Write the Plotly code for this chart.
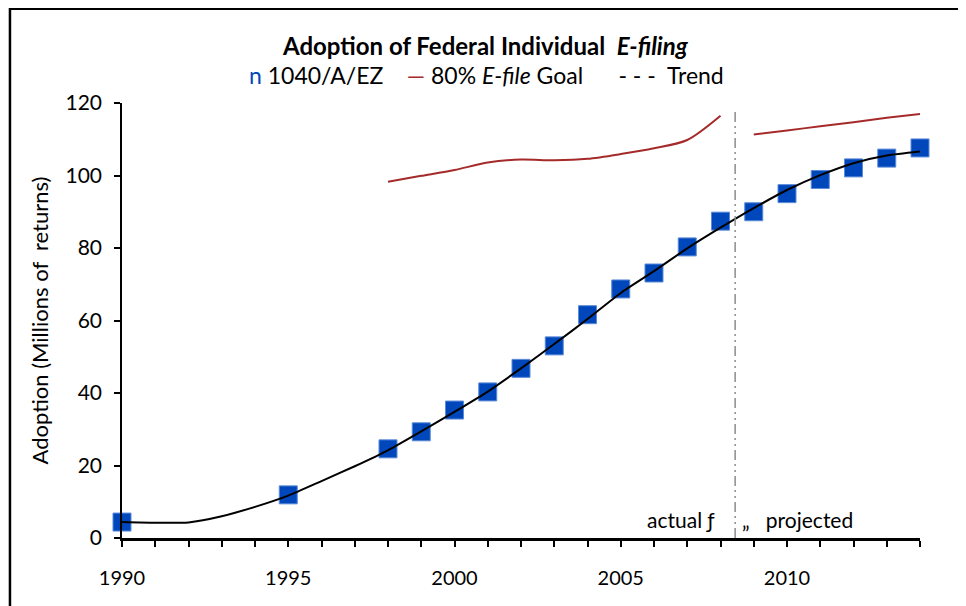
import plotly.graph_objects as go

# ---- data ----
years = list(range(1990, 2015))
filing_years = [1990, 1995, 1998, 1999, 2000, 2001, 2002, 2003, 2004, 2005, 2006,
                2007, 2008, 2009, 2010, 2011, 2012, 2013, 2014]
filings = [4.4, 11.9, 24.6, 29.3, 35.3, 40.3, 46.8, 53.0, 61.6, 68.7, 73.1,
           80.3, 87.4, 90.0, 95.0, 98.9, 102.1, 104.8, 107.6]

goal_years_actual = [1998, 1999, 2000, 2001, 2002, 2003, 2004, 2005, 2006, 2007, 2008]
goal_actual = [98.3, 99.9, 101.5, 103.6, 104.4, 104.2, 104.6, 105.9, 107.5, 109.8, 116.5]
goal_years_proj = [2009, 2010, 2011, 2012, 2013, 2014]
goal_proj = [111.3, 112.4, 113.6, 114.7, 115.9, 117.0]

trend = [4.4, 4.2, 4.3, 6.0, 8.6, 11.7, 15.7, 19.8, 24.2, 29.4, 34.8, 40.4, 46.8,
         53.5, 60.4, 67.6, 73.6, 79.9, 85.6, 91.0, 96.0, 100.1, 103.4, 105.5, 106.6]

split_year = 2008.44
tick_text = [str(y) if y % 5 == 0 and y < 2014 else "" for y in years]

FONT = "Lato"
BLUE = "#0047BB"
RED = "#A52A2A"

fig = go.Figure()

fig.add_trace(go.Scatter(
    x=goal_years_actual, y=goal_actual, mode="lines",
    line=dict(color=RED, width=2, shape="spline", smoothing=0.8),
    showlegend=False, hoverinfo="skip"))
fig.add_trace(go.Scatter(
    x=goal_years_proj, y=goal_proj, mode="lines",
    line=dict(color=RED, width=2, shape="spline"),
    showlegend=False, hoverinfo="skip"))

fig.add_trace(go.Scatter(
    x=filing_years, y=filings, mode="markers",
    marker=dict(symbol="square", size=18, color=BLUE,
                line=dict(color="#5B8BD9", width=1)),
    cliponaxis=False, showlegend=False))

fig.add_trace(go.Scatter(
    x=years, y=trend, mode="lines",
    line=dict(color="black", width=2, shape="spline", smoothing=0.6),
    cliponaxis=False, showlegend=False, hoverinfo="skip"))

# actual / projected divider
fig.add_shape(type="line", xref="x", yref="y",
              x0=split_year, x1=split_year, y0=0, y1=118.5,
              line=dict(color="#8C8C8C", width=1.5, dash="10px,4px,2px,4px,2px,4px"))

# chart-area border
fig.add_shape(type="rect", xref="paper", yref="paper",
              x0=-0.1404, x1=1.0514, y0=-0.25, y1=1.2166,
              line=dict(color="black", width=2.5), layer="above")

fig.add_annotation(x=split_year, y=5, xref="x", yref="y", text="actual ƒ",
                   xanchor="right", xshift=-18, showarrow=False,
                   font=dict(family=FONT, size=21, color="black"))
fig.add_annotation(x=split_year, y=5, xref="x", yref="y", text="„   projected",
                   xanchor="left", xshift=5, showarrow=False,
                   font=dict(family=FONT, size=21, color="black"))

# title and legend text
fig.add_annotation(x=0.455, y=1.133, xref="paper", yref="paper", yanchor="middle",
                   text="<b>Adoption of Federal Individual  <i>E-filing</i></b>",
                   showarrow=False, font=dict(family=FONT, size=24, color="black"))
fig.add_annotation(x=0.457, y=1.064, xref="paper", yref="paper", yanchor="middle",
                   text=(f"<span style='color:{BLUE}'>n</span> 1040/A/EZ    "
                         f"<span style='color:{RED}'>—</span> 80% <i>E-file</i> Goal"
                         "      - - -  Trend"),
                   showarrow=False, font=dict(family=FONT, size=23, color="black"))

fig.update_layout(
    width=966, height=606,
    margin=dict(l=114, r=54, t=95, b=76),
    plot_bgcolor="white", paper_bgcolor="white",
    font=dict(family=FONT, size=20, color="black"),
    showlegend=False,
    xaxis=dict(range=[1990, 2014], tickvals=years, ticktext=tick_text,
               ticks="outside", ticklen=6, tickwidth=1.5, tickcolor="black",
               showline=True, linecolor="black", linewidth=2.5,
               showgrid=False, zeroline=False, automargin=False,
               ticklabelstandoff=14,
               tickfont=dict(family=FONT, size=20)),
    yaxis=dict(range=[0, 120], dtick=20, ticks="outside", ticklen=6,
               tickwidth=1.5, tickcolor="black",
               showline=True, linecolor="black", linewidth=1.5,
               showgrid=False, zeroline=False, automargin=False,
               ticklabelstandoff=8,
               title=dict(text="Adoption (Millions of  returns)", standoff=11,
                          font=dict(family=FONT, size=22)),
               tickfont=dict(family=FONT, size=21)),
)

fig.write_html("out.html")
